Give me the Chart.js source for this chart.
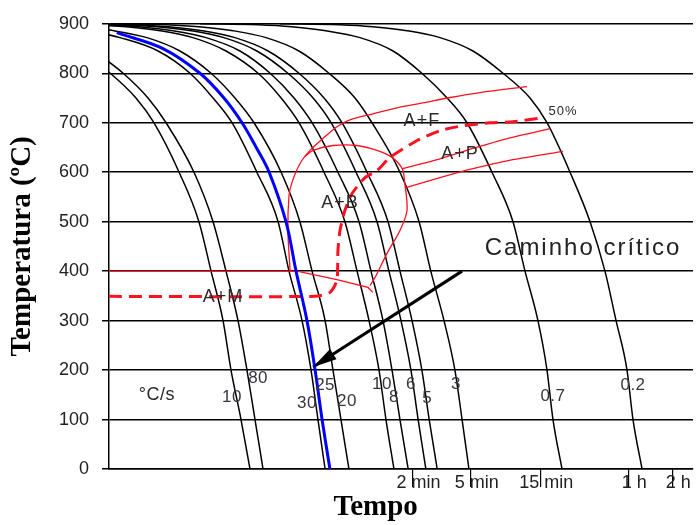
<!DOCTYPE html>
<html>
<head>
<meta charset="utf-8">
<script src="https://cdn.jsdelivr.net/npm/chart.js@4.4.0/dist/chart.umd.min.js"></script>
<style>
  html, body { margin: 0; padding: 0; background: #fff; }
  #wrap { width: 696px; height: 525px; }
</style>
</head>
<body>
<div id="wrap"><canvas id="cct" width="696" height="525"></canvas></div>
<script>
// Temperature levels (°C) at which every cooling curve is sampled
const tempLevels = [900, 898, 894, 886, 872, 845, 800, 750, 700, 600, 500, 400, 300, 200, 100, 0];

// Time (s) to reach each level, one array per cooling rate (°C/s); null = before the time axis starts
const time_10a = [null, null, null, null, null, 0.64, 1.02, 1.53, 2.03, 3.02, 4.13, 5.0, 6.04, 6.85, 8.02, 9.24];
const time_80  = [null, null, null, null, null, 0.79, 1.25, 1.85, 2.46, 3.82, 5.16, 6.33, 7.65, 8.81, 10.0, 11.35];
const time_30  = [null, null, null, 0.74, 1.19, 2.17, 3.59, 5.16, 6.96, 10.3, 14.4, 17.1, 21.0, 24.2, 27.0, 30.2];
const time_20  = [null, null, 0.63, 1.08, 1.82, 3.06, 5.0, 7.29, 9.84, 15.1, 20.3, 24.6, 30.2, 34.2, 38.8, 44.0];
const time_10b = [null, 0.78, 1.31, 2.24, 3.76, 6.33, 10.5, 15.1, 20.0, 29.7, 41.3, 50.0, 60.4, 70.7, 78.9, 89.5];
const time_8   = [0.5, 0.95, 1.60, 2.74, 4.62, 7.89, 12.7, 18.5, 24.6, 37.0, 51.6, 62.3, 75.3, 86.8, 98.4, 112];
const time_6   = [0.63, 1.27, 2.13, 3.65, 6.13, 10.3, 16.8, 25.0, 33.2, 49.2, 68.5, 82.7, 100, 117, 131, 148];
const time_5   = [0.74, 1.51, 2.54, 4.34, 7.29, 12.3, 20.0, 29.7, 39.4, 58.5, 81.5, 98.4, 119, 139, 156, 177];
const time_3   = [1.19, 2.46, 4.13, 7.07, 11.9, 20.0, 32.1, 48.4, 63.3, 98.4, 133, 160, 197, 234, 262, 292];
const time_07  = [4.20, 10.5, 17.9, 30.6, 52.4, 88.2, 139, 207, 283, 420, 585, 707, 867, 1000, 1099, 1267];
const time_02  = [14.8, 38.2, 64.3, 110, 185, 311, 500, 765, 1000, 1438, 1972, 2495, 2972, 3532, 3882, 4477];

// Critical cooling path (blue)
const criticalTimes = [1.13, 2.34, 4.20, 6.13, 8.15, 10.2, 12.5, 16.3, 19.1, 22.7, 25.8, 28.8, 32.6];
const criticalTemps = [882, 850, 800, 750, 700, 650, 600, 500, 400, 300, 200, 100, 0];

// Transformation lines (red)
const msTimes = [1.0, 19.4, 36.4, 59.4, 64.3];
const msTemps = [400, 400, 383, 367, 357];
const ferriteStartTimes = [17.4, 16.8, 17.1, 17.9, 20.3, 23.8, 29.2, 36.4, 44.7, 64.3, 93.9, 141, 217, 348, 729];
const ferriteStartTemps = [400, 482, 553, 579, 617, 644, 668, 692, 706, 718, 730, 740, 751, 761, 773];
const bainiteNoseTimes = [22.0, 25.0, 34.2, 50.0, 68.5, 86.8, 102, 106, 110, 98.4, 80.2, 66.4, 61.3];
const bainiteNoseTemps = [632, 644, 654, 654, 644, 630, 607, 579, 523, 482, 436, 387, 371];
const pearliteStartTimes = [102, 185, 311, 532, 1049];
const pearliteStartTemps = [607, 627, 648, 668, 688];
const pearliteEndTimes = [108, 185, 311, 532, 1288];
const pearliteEndTemps = [569, 589, 607, 623, 642];
const halfTimes = [1.0, 25.8, 32.6, 36.4, 37.0, 38.2, 41.3, 46.2, 56.7, 68.5, 84.1, 129, 185, 266, 407, 585, 939];
const halfTemps = [349, 349, 357, 381, 442, 482, 523, 557, 589, 603, 630, 664, 684, 694, 700, 702, 710];

// "Caminho crítico" pointer
const arrowTimes = [262, 25.0];
const arrowTemps = [400, 206];

// Time axis ticks (s) and their labels
const timeTicks = [120, 300, 900, 3600, 7200];
const timeTickLabels = ['2 min', '5 min', '15 min', '1 h', '2 h'];

// Cooling-rate labels and where they sit (time s, temperature °C)
const coolingRates = ['10', '80', '30', '25', '20', '10', '8', '6', '5', '3', '0.7', '0.2'];
const rateLabelTimes = [6.96, 10.5, 22.7, 30.2, 42.7, 74.1, 89.5, 117, 151, 238, 1099, 3882];
const rateLabelTemps = [145, 184, 133, 169, 137, 172, 145, 172, 143, 172, 147, 169];

// Phase-field labels
const phaseLabels = ['A+M', 'A+B', 'A+F', 'A+P'];
const phaseLabelTimes = [6.04, 38.2, 139, 254];
const phaseLabelTemps = [347, 537, 704, 636];

const blackCurves = [time_10a, time_80, time_30, time_20, time_10b, time_8, time_6, time_5, time_3, time_07, time_02];

function pairs(times, temps) {
  const pts = [];
  for (let i = 0; i < times.length; i++) {
    if (times[i] != null) pts.push({ x: times[i], y: temps[i] });
  }
  return pts;
}

const RED = '#ff1020';
const datasets = [];

datasets.push({
  data: pairs(criticalTimes, criticalTemps),
  borderColor: '#0000ff', borderWidth: 3, order: 0,
  tension: 0.35
});

blackCurves.forEach(times => {
  datasets.push({
    data: pairs(times, tempLevels),
    borderColor: '#000', borderWidth: 1.5, order: 3,
    cubicInterpolationMode: 'monotone'
  });
});

[[msTimes, msTemps, 0], [ferriteStartTimes, ferriteStartTemps, 0.3], [bainiteNoseTimes, bainiteNoseTemps, 0.3],
 [pearliteStartTimes, pearliteStartTemps, 0.2], [pearliteEndTimes, pearliteEndTemps, 0.2]].forEach(([t, T, k]) => {
  datasets.push({
    data: pairs(t, T),
    borderColor: RED, borderWidth: 1.3, order: 1, tension: k
  });
});

datasets.push({
  data: pairs(halfTimes, halfTemps),
  borderColor: RED, borderWidth: 3, borderDash: [13, 7], order: 1, tension: 0.2
});

const arrowIndex = datasets.length;
datasets.push({
  data: pairs(arrowTimes, arrowTemps),
  borderColor: '#000', borderWidth: 3, order: 0
});

datasets.forEach(d => { d.showLine = true; d.pointRadius = 0; d.fill = false; });

const textPlugin = {
  id: 'cctText',
  afterDatasetsDraw(chart) {
    const { ctx, scales: { x, y } } = chart;

    // arrowhead at the tip of the pointer
    const pts = chart.getDatasetMeta(arrowIndex).data;
    const tip = pts[1], tail = pts[0];
    const ang = Math.atan2(tip.y - tail.y, tip.x - tail.x);
    const len = 24, half = 6;
    ctx.save();
    ctx.fillStyle = '#000';
    ctx.beginPath();
    ctx.moveTo(tip.x, tip.y);
    ctx.lineTo(tip.x - len * Math.cos(ang) + half * Math.sin(ang), tip.y - len * Math.sin(ang) - half * Math.cos(ang));
    ctx.lineTo(tip.x - len * Math.cos(ang) - half * Math.sin(ang), tip.y - len * Math.sin(ang) + half * Math.cos(ang));
    ctx.closePath();
    ctx.fill();

    ctx.textAlign = 'center';
    ctx.textBaseline = 'middle';

    const put = (text, t, T, font, color, spacing) => {
      ctx.font = font;
      ctx.fillStyle = color;
      ctx.letterSpacing = spacing || '0px';
      ctx.fillText(text, x.getPixelForValue(t), y.getPixelForValue(T));
    };

    coolingRates.forEach((r, i) => put(r, rateLabelTimes[i], rateLabelTemps[i], '17px "Liberation Sans"', '#3a3440', '0.5px'));
    phaseLabels.forEach((p, i) => put(p, phaseLabelTimes[i], phaseLabelTemps[i], '18px "Liberation Sans"', '#2a2a2a', '1px'));
    put('°C/s', 2.13, 149, '18px "Liberation Sans"', '#2a2a2a', '0.5px');
    put('50%', 1288, 722, '13px "Liberation Sans"', '#2a2a2a', '1px');
    put('Caminho crítico', 1766, 446, '24px "Liberation Sans"', '#222', '2px');
    ctx.restore();
  }
};

new Chart(document.getElementById('cct'), {
  type: 'scatter',
  data: { datasets },
  options: {
    responsive: false,
    animation: false,
    layout: { padding: { left: 0, right: 3, top: 23, bottom: 0 } },
    plugins: { legend: { display: false }, tooltip: { enabled: false } },
    scales: {
      x: {
        type: 'logarithmic',
        min: 1,
        max: 10000,
        afterBuildTicks: s => { s.ticks = timeTicks.map(v => ({ value: v })); },
        afterFit: s => { s.height = 56; },
        ticks: {
          callback: (v, i) => timeTickLabels[i],
          autoSkip: false,
          maxRotation: 0,
          labelOffset: 6,
          padding: -15,
          color: '#222',
          font: { family: 'Liberation Sans', size: 18 }
        },
        grid: { drawOnChartArea: false, drawTicks: true, tickLength: 18, color: '#000', lineWidth: 1.2 },
        border: { display: true, color: '#000', width: 1.5 },
        title: {
          display: true,
          text: 'Tempo\u00a0\u00a0\u00a0\u00a0\u00a0\u00a0\u00a0',
          color: '#000',
          font: { family: 'Liberation Serif', size: 29, weight: 'bold' },
          padding: { top: 0, bottom: 0 }
        }
      },
      y: {
        min: 0,
        max: 900,
        afterFit: s => { s.width = 109; },
        ticks: { stepSize: 100, padding: 13, color: '#222', font: { family: 'Liberation Sans', size: 18 } },
        grid: { color: '#000', lineWidth: 1.5, drawTicks: true, tickLength: 7 },
        border: { display: true, color: '#000', width: 1.5 },
        title: {
          display: true,
          text: 'Temperatura (ºC)',
          color: '#000',
          font: { family: 'Liberation Serif', size: 29, weight: 'bold' },
          padding: { top: 5, bottom: 0 }
        }
      }
    }
  },
  plugins: [textPlugin]
});
</script>
</body>
</html>
